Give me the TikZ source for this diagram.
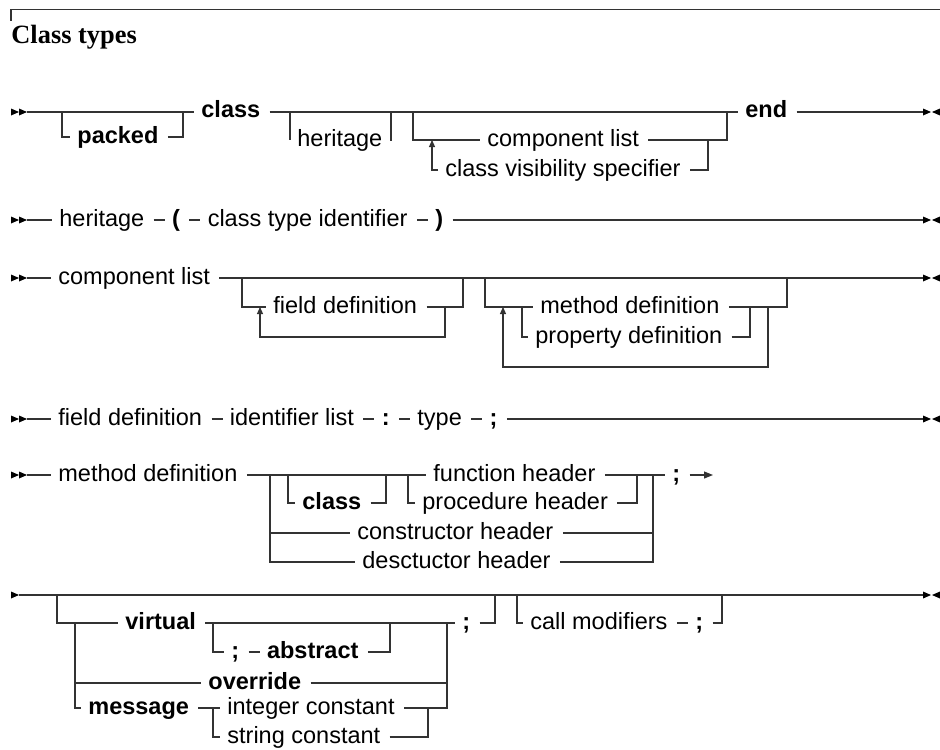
\documentclass[tikz,border=0pt]{standalone}
\usepackage{fontspec}
\setmainfont{Liberation Sans}
\newfontfamily\titlefont{Liberation Serif}
\usetikzlibrary{arrows.meta,positioning}
\newcommand\dsize{\fontsize{11.75}{14}\selectfont}
\tikzset{
  ln/.style={draw=black!80, line width=0.55pt},
  tok/.style={inner xsep=0pt, inner ysep=0pt, text height=9pt, text depth=3pt, anchor=west, font=\dsize,
    execute at begin node={\kern3.5pt}, execute at end node={\kern4.5pt}},
  kw/.style={tok, font=\dsize\bfseries},
  up/.style={ln, -{Triangle[length=3.5pt,width=3pt]}},
  headR/.pic={\fill[black] (0,-3.5) -- (8,0) -- (0,3.5) -- cycle;},
  headL/.pic={\fill[black] (8,-3.5) -- (0,0) -- (8,3.5) -- cycle;},
}
\begin{document}
\begin{tikzpicture}[x=0.5pt,y=-0.5pt]
\useasboundingbox (0,0) rectangle (940,749);
% frame and title
\coordinate (fa) at (11,21); \coordinate (fb) at (11,9.5); \coordinate (fc) at (940,9.5);
\draw[ln] (fa) -- (fb) -- (fc);
\node[anchor=base west, inner sep=0pt, font=\titlefont\bfseries\fontsize{13.2}{16}\selectfont] (title) at (11,44) {Class types};

% ---------- Row 1 ----------
\pic at (11,112) {headR}; \pic at (19,112) {headR};
\coordinate (r1s) at (27,112);
\node[kw] (packed) at (70,137) {packed};
\node[kw] (cls1) at (194,112) {class};
\node[tok] (her1) at (290,140) {heritage};
\node[tok] (comp1) at (480,140) {component list};
\node[tok] (cvs) at (438,170) {class visibility specifier};
\node[kw] (end1) at (738,112) {end};
\coordinate (r1e) at (923,112);
\pic at (923,112) {headR}; \pic at (932,112) {headL};
\coordinate (p1a) at (62,112); \coordinate (p1b) at (183,112);
\coordinate (h1a) at (290,112); \coordinate (h1b) at (391,112);
\coordinate (k1a) at (413,112); \coordinate (k1b) at (727,112);
\coordinate (l1a) at (432,140); \coordinate (l1b) at (708,140);
\draw[ln] (r1s) -- (cls1.west);
\draw[ln] (p1a) |- (packed.west);
\draw[ln] (packed.east) -| (p1b);
\draw[ln] (cls1.east) -- (end1.west);
\draw[ln] (h1a) |- (her1.west);
\draw[ln] (her1.east) -| (h1b);
\draw[ln] (k1a) |- (comp1.west);
\draw[ln] (comp1.east) -| (k1b);
\draw[ln] (l1b) |- (cvs.east);
\draw[up] (cvs.west) -| (l1a);
\draw[ln] (end1.east) -- (r1e);

% ---------- Row 2 ----------
\pic at (11,220) {headR}; \pic at (19,220) {headR};
\coordinate (r2s) at (27,220);
\node[tok] (her2) at (52,220) {heritage};
\node[kw, right=5.5pt of her2] (lp) {(};
\node[tok, right=5.5pt of lp] (cti) {class type identifier};
\node[kw, right=5.5pt of cti] (rp) {)};
\coordinate (r2e) at (923,220);
\pic at (923,220) {headR}; \pic at (932,220) {headL};
\draw[ln] (r2s) -- (her2.west);
\draw[ln] (her2.east) -- (lp.west);
\draw[ln] (lp.east) -- (cti.west);
\draw[ln] (cti.east) -- (rp.west);
\draw[ln] (rp.east) -- (r2e);

% ---------- Row 3 ----------
\pic at (11,278) {headR}; \pic at (19,278) {headR};
\coordinate (r3s) at (27,278);
\node[tok] (comp3) at (51,278) {component list};
\coordinate (r3e) at (923,278);
\pic at (923,278) {headR}; \pic at (932,278) {headL};
\draw[ln] (r3s) -- (comp3.west);
\draw[ln] (comp3.east) -- (r3e);
\node[tok] (fd3) at (266,307) {field definition};
\coordinate (f3a) at (242,278); \coordinate (f3b) at (463,278);
\coordinate (f3c) at (260,307); \coordinate (f3d) at (445,307); \coordinate (f3e) at (260,337);
\draw[ln] (f3a) |- (fd3.west);
\draw[ln] (fd3.east) -| (f3b);
\draw[up] (f3d) |- (f3e) -- (f3c);
\node[tok] (md3) at (533,307) {method definition};
\node[tok] (pd3) at (528,337) {property definition};
\coordinate (m3a) at (485,278); \coordinate (m3b) at (787,278);
\coordinate (m3c) at (522,307); \coordinate (m3d) at (750,307);
\coordinate (m3e) at (768,307); \coordinate (m3f) at (503,367); \coordinate (m3g) at (503,307);
\draw[ln] (m3a) |- (md3.west);
\draw[ln] (md3.east) -| (m3b);
\draw[ln] (m3c) |- (pd3.west);
\draw[ln] (pd3.east) -| (m3d);
\draw[up] (m3e) |- (m3f) -- (m3g);

% ---------- Row 4 ----------
\pic at (11,419) {headR}; \pic at (19,419) {headR};
\coordinate (r4s) at (27,419);
\node[tok] (fd4) at (51,419) {field definition};
\node[tok, right=5.5pt of fd4] (il4) {identifier list};
\node[kw, right=5.5pt of il4] (col4) {:};
\node[tok, right=5.5pt of col4] (ty4) {type};
\node[kw, right=5.5pt of ty4] (sc4) {;};
\coordinate (r4e) at (923,419);
\pic at (923,419) {headR}; \pic at (932,419) {headL};
\draw[ln] (r4s) -- (fd4.west);
\draw[ln] (fd4.east) -- (il4.west);
\draw[ln] (il4.east) -- (col4.west);
\draw[ln] (col4.east) -- (ty4.west);
\draw[ln] (ty4.east) -- (sc4.west);
\draw[ln] (sc4.east) -- (r4e);

% ---------- Row 5 ----------
\pic at (11,475) {headR}; \pic at (19,475) {headR};
\coordinate (r5s) at (27,475);
\node[tok] (md5) at (51,475) {method definition};
\coordinate (s5a) at (270,475);
\node[kw] (cls5) at (295,503) {class};
\coordinate (c5a) at (288,475); \coordinate (c5b) at (386,475);
\coordinate (f5a) at (408,475);
\node[tok] (fh5) at (426,475) {function header};
\node[tok] (ph5) at (415,503) {procedure header};
\coordinate (f5b) at (637,475);
\node[tok] (ch5) at (350,533) {constructor header};
\node[tok] (dh5) at (355,562) {desctuctor header};
\coordinate (s5b) at (653,475);
\node[kw] (sc5) at (665,475) {;};
\coordinate (r5e) at (713,475);
\draw[ln] (r5s) -- (md5.west);
\draw[ln] (md5.east) -- (fh5.west);
\draw[ln] (c5a) |- (cls5.west);
\draw[ln] (cls5.east) -| (c5b);
\draw[ln] (f5a) |- (ph5.west);
\draw[ln] (ph5.east) -| (f5b);
\draw[ln] (fh5.east) -- (sc5.west);
\draw[ln] (s5a) |- (ch5.west);
\draw[ln] (s5a) |- (dh5.west);
\draw[ln] (ch5.east) -| (s5b);
\draw[ln] (dh5.east) -| (s5b);
\draw[ln, -{Triangle[length=4.5pt,width=3.5pt]}] (sc5.east) -- (r5e);

% ---------- Row 6 ----------
\pic at (11,595) {headR};
\coordinate (r6s) at (19,595); \coordinate (r6e) at (923,595);
\pic at (923,595) {headR}; \pic at (932,595) {headL};
\draw[ln] (r6s) -- (r6e);
\coordinate (o6a) at (57,595); \coordinate (o6b) at (495,595);
\node[kw] (vir) at (118,623) {virtual};
\draw[ln] (o6a) |- (vir.west);
\coordinate (a6a) at (213,623); \coordinate (a6b) at (390,623);
\node[kw] (sc6a) at (224,652) {;};
\node[kw, right=5.5pt of sc6a] (abs) {abstract};
\draw[ln] (a6a) |- (sc6a.west);
\draw[ln] (sc6a.east) -- (abs.west);
\draw[ln] (abs.east) -| (a6b);
\coordinate (v6m) at (447,623);
\node[kw] (sc6b) at (455,623) {;};
\draw[ln] (vir.east) -- (sc6b.west);
\draw[ln] (sc6b.east) -| (o6b);
\coordinate (b6a) at (75,623);
\node[kw] (ovr) at (201,683) {override};
\node[kw] (msg) at (81,708) {message};
\draw[ln] (b6a) |- (ovr.west);
\draw[ln] (b6a) |- (msg.west);
\draw[ln] (ovr.east) -| (v6m);
\coordinate (i6a) at (213,708); \coordinate (i6b) at (428,708);
\node[tok] (ic) at (220,708) {integer constant};
\node[tok] (stc) at (220,737) {string constant};
\draw[ln] (msg.east) -- (ic.west);
\draw[ln] (i6a) |- (stc.west);
\draw[ln] (stc.east) -| (i6b);
\draw[ln] (ic.east) -| (v6m);
\coordinate (cm6a) at (517,595); \coordinate (cm6b) at (722,595);
\node[tok] (cm) at (523,623) {call modifiers};
\node[kw, right=5.5pt of cm] (sc6c) {;};
\draw[ln] (cm6a) |- (cm.west);
\draw[ln] (cm.east) -- (sc6c.west);
\draw[ln] (sc6c.east) -| (cm6b);
\end{tikzpicture}
\end{document}
